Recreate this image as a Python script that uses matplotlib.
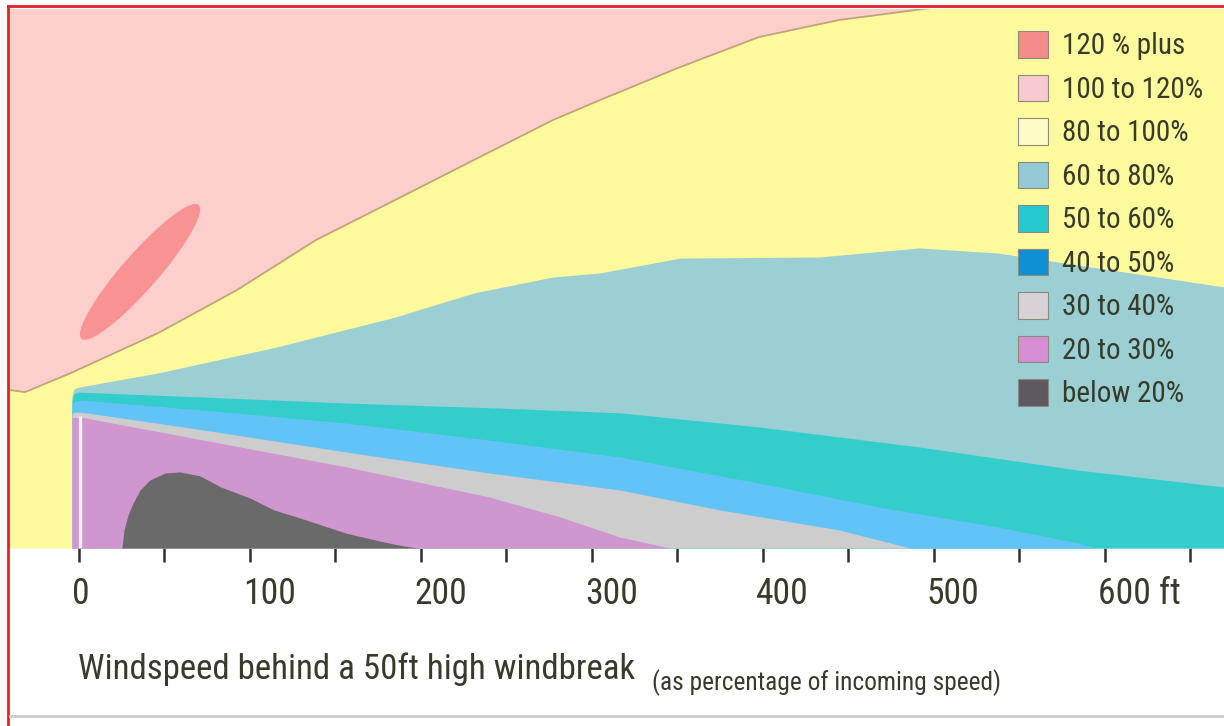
import numpy as np
import matplotlib
matplotlib.use("Agg")
import matplotlib.pyplot as plt
from matplotlib.patches import Patch
from matplotlib.lines import Line2D
from matplotlib import font_manager as fm
from matplotlib.textpath import TextPath
from matplotlib.font_manager import FontProperties
import matplotlib.transforms as mtransforms

# ---------------- data (distance behind windbreak in ft, height in ft) ----------------
b100_x = [-40.4, -31.6, -4.7, 46.2, 92.4, 138.6, 184.8, 231.0, 277.2, 304.7, 351.5, 397.7, 444.4, 498.2, 530, 670]
b100_h = [59.4, 58.6, 65.8, 80.8, 97.0, 115.8, 130.8, 145.9, 160.9, 168.4, 180.8, 192.1, 198.5, 203.0, 206, 210]

b80_x = [-4.1, -3.0, 0, 46.2, 115.8, 184.8, 231.0, 277.2, 304.7, 351.5, 432.7, 491.2, 537.4, 670]
b80_h = [57.0, 59.8, 60.5, 65.8, 75.6, 86.8, 95.9, 101.9, 103.4, 109.0, 109.4, 112.8, 110.9, 98.1]

b60_x = [-4.1, -3.0, 0, 70.8, 156.1, 246.2, 316.4, 397.7, 491.2, 584.2, 670]
b60_h = [55.5, 58.0, 58.6, 56.8, 54.5, 52.6, 50.8, 45.5, 38.0, 29.3, 22.9]

b50_x = [-4.1, -3.0, 1.2, 72.5, 156.1, 239.8, 316.4, 397.7, 467.8, 537.4, 584.2, 594.2, 670]
b50_h = [53.5, 55.0, 55.6, 51.9, 47.0, 40.6, 34.2, 24.4, 15.4, 7.9, 1.9, 0, 0]

b40_x = [-4.1, -3.0, 1.2, 72.5, 156.1, 239.8, 316.4, 374.9, 444.4, 486.0, 670]
b40_h = [50.5, 51.0, 51.1, 44.4, 36.1, 28.2, 21.8, 14.3, 6.8, 0, 0]

b30_x = [-4.1, 1.2, 72.5, 156.1, 239.8, 281.3, 316.4, 345.6, 670]
b30_h = [49.0, 49.2, 40.6, 30.5, 19.2, 11.7, 4.1, 0, 0]

b20_x = [25.1, 26.3, 28.7, 31.6, 35.7, 41.5, 50.3, 59.1, 70.8, 83.0, 100.0, 114.0, 129.2, 156.1, 176.0, 187.1, 197.7]
b20_h = [0, 6.8, 12.4, 16.9, 21.8, 25.6, 28.2, 28.6, 27.1, 22.9, 18.8, 14.3, 11.3, 5.6, 2.6, 1.1, 0]

windbreak_x = 0.8
windbreak_height = 49.5

hot_center = (35.7, 103.8)      # "120 % plus" pocket
hot_angle_deg = 48.8
hot_semi_major_ft = 52.0
hot_semi_minor_ft = 10.5

x_major = [0, 100, 200, 300, 400, 500, 600]
x_major_labels = ["0", "100", "200", "300", "400", "500", "600 ft"]
x_minor = [50, 150, 250, 350, 450, 550, 650]

legend_labels = ["120 % plus", "100 to 120%", "80 to 100%", "60 to 80%", "50 to 60%",
                 "40 to 50%", "30 to 40%", "20 to 30%", "below 20%"]
legend_colors = ["#f58c8c", "#f9c9d0", "#fdfcc6", "#94c9d6", "#26c9d0",
                 "#0e8fd6", "#d8d2d6", "#d68fd6", "#5e5860"]

title_main = "Windspeed behind a 50ft high windbreak"
title_sub = "(as percentage of incoming speed)"

# ---------------- styling ----------------
C_PINK = "#fccfcc"
C_YELLOW = "#fdfa9d"
C_TEAL = "#9ccfd3"
C_TURQ = "#33cdcb"
C_BLUE = "#62c3f6"
C_GREY = "#cdcdcd"
C_PURPLE = "#cf96cf"
C_DARK = "#6a6a6a"
C_HOT = "#f99393"
TXT = "#363b2a"


def pick_font():
    names = {f.name: [] for f in fm.fontManager.ttflist}
    for f in fm.fontManager.ttflist:
        names[f.name].append(f)
    for cand in ["Liberation Sans Narrow", "DejaVu Sans Condensed", "Roboto Condensed",
                 "Open Sans Condensed", "Noto Sans Condensed"]:
        if cand in names:
            return cand, "normal"
    for fam in ["DejaVu Sans", "Noto Sans", "Open Sans", "Roboto"]:
        for f in names.get(fam, []):
            if str(f.stretch) in ("condensed", "semi-condensed", "extra-condensed"):
                return fam, f.stretch
    for fam in ["Roboto", "Lato", "DejaVu Sans"]:
        if fam in names:
            return fam, "normal"
    return "DejaVu Sans", "normal"


FAM, STRETCH = pick_font()
FONT = [FAM, "DejaVu Sans"]


def fit_size(text, target_px, dpi=100):
    """font size (pt) whose rendered width is target_px"""
    fp = FontProperties(family=FONT, stretch=STRETCH, size=10)
    w = TextPath((0, 0), text, prop=fp).get_extents().width  # in points at size 10
    return 10 * (target_px * 72 / dpi) / w


W, H, DPI = 1224, 726, 100
fig = plt.figure(figsize=(W / DPI, H / DPI), dpi=DPI)
fig.patch.set_facecolor("white")

ax_l, ax_r, ax_t, ax_b = 10, 1224, 9, 548
ax = fig.add_axes([ax_l / W, (H - ax_b) / H, (ax_r - ax_l) / W, (ax_b - ax_t) / H])
px_per_ft_x = 1.71
px_per_ft_y = 2.66
x0_px = 79
ax.set_xlim((ax_l - x0_px) / px_per_ft_x, (ax_r - x0_px) / px_per_ft_x)
ax.set_ylim(0, (ax_b - ax_t) / px_per_ft_y)
ax.set_facecolor(C_PINK)
for s in ax.spines.values():
    s.set_visible(False)

ax.fill_between(b100_x, 0, b100_h, color=C_YELLOW, lw=0, zorder=1)
ax.plot(b100_x, b100_h, color="#c2a575", lw=1.3, zorder=1.5)
ax.fill_between(b80_x, 0, b80_h, color=C_TEAL, lw=0, zorder=2)
ax.fill_between(b60_x, 0, b60_h, color=C_TURQ, lw=0, zorder=3)
ax.fill_between(b50_x, 0, b50_h, color=C_BLUE, lw=0, zorder=4)
ax.fill_between(b40_x, 0, b40_h, color=C_GREY, lw=0, zorder=5)
ax.fill_between(b30_x, 0, b30_h, color=C_PURPLE, lw=0, zorder=6)
ax.fill_between(b20_x, 0, b20_h, color=C_DARK, lw=0, zorder=7)
ax.plot([windbreak_x, windbreak_x], [0, windbreak_height], color="#f3eef5", lw=2.4,
        solid_capstyle="butt", zorder=8)

# hot pocket ellipse (screen-equivalent shape mapped to data units)
t = np.linspace(0, 2 * np.pi, 200)
ang = np.deg2rad(hot_angle_deg)
ux, uy = np.cos(ang), np.sin(ang)
vx, vy = -np.sin(ang), np.cos(ang)
a = hot_semi_major_ft * px_per_ft_x
b = hot_semi_minor_ft * px_per_ft_x
ex_px = a * np.cos(t) * ux + b * np.sin(t) * vx
ey_px = a * np.cos(t) * uy + b * np.sin(t) * vy
ax.fill(hot_center[0] + ex_px / px_per_ft_x, hot_center[1] + ey_px / px_per_ft_y,
        color=C_HOT, lw=0, zorder=2)

# ticks
tick_size = min(fit_size("100", 48), 27)
ax.set_yticks([])
ax.set_xticks(x_major)
ax.set_xticklabels(x_major_labels)
ax.set_xticks(x_minor, minor=True)
ax.tick_params(axis="x", which="both", direction="out", length=10, width=1.8,
               color="#2e2e2e", pad=10)
ax.tick_params(axis="x", which="major", labelsize=tick_size, labelcolor=TXT)
offset = mtransforms.ScaledTranslation(-7 / DPI, 0, fig.dpi_scale_trans)
for lbl in ax.get_xticklabels():
    lbl.set_horizontalalignment("left")
    lbl.set_family(FONT)
    lbl.set_fontstretch(STRETCH)
    lbl.set_transform(lbl.get_transform() + offset)

# legend
leg_size = fit_size("100 to 120%", 138)
fs_px = leg_size * DPI / 72
handles = [Patch(facecolor=c, edgecolor="#8a8a78", linewidth=0.8) for c in legend_colors]
leg = ax.legend(handles, legend_labels, loc="upper left",
                bbox_to_anchor=((1018 - ax_l) / (ax_r - ax_l), 1 - (31 - ax_t) / (ax_b - ax_t)),
                frameon=False,
                prop=FontProperties(family=FONT, stretch=STRETCH, size=leg_size),
                handlelength=30 / fs_px, handleheight=30 / fs_px, handletextpad=14 / fs_px,
                labelspacing=14.2 / fs_px, borderaxespad=0, borderpad=0)
for txt in leg.get_texts():
    txt.set_color(TXT)

# titles
fig.text(78 / W, (H - 679) / H, title_main, family=FONT, stretch=STRETCH,
         size=fit_size(title_main, 556), color=TXT, va="baseline")
fig.text(652 / W, (H - 690) / H, title_sub, family=FONT, stretch=STRETCH,
         size=fit_size(title_sub, 346), color=TXT, va="baseline")

# frame decorations
fig.add_artist(Line2D([8 / W, 8 / W], [0, 1 - 6 / H], transform=fig.transFigure,
                      color="#e0202a", lw=2))
fig.add_artist(Line2D([8 / W, 1], [1 - 6 / H, 1 - 6 / H], transform=fig.transFigure,
                      color="#e0202a", lw=2))
fig.add_artist(Line2D([10 / W, 1], [(H - 716) / H, (H - 716) / H], transform=fig.transFigure,
                      color="#cfcfcf", lw=2.2))

fig.savefig("out.png", dpi=DPI)
